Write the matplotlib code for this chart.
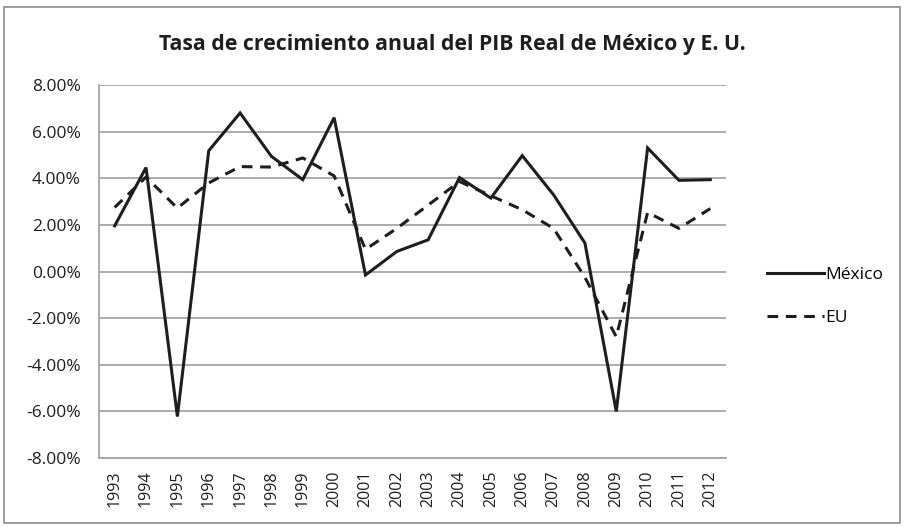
import matplotlib
matplotlib.use("Agg")
import matplotlib.pyplot as plt
from matplotlib.patches import Rectangle
from matplotlib.ticker import FuncFormatter

# datos (tasa de crecimiento anual, %)
years = [str(y) for y in range(1993, 2013)]
mexico = [1.96, 4.46, -6.22, 5.18, 6.80, 4.94, 3.94, 6.60, -0.15, 0.86,
          1.36, 4.03, 3.15, 4.97, 3.29, 1.22, -6.00, 5.30, 3.91, 3.94]
eu = [2.75, 4.05, 2.72, 3.80, 4.50, 4.48, 4.87, 4.10, 0.95, 1.85,
      2.85, 3.86, 3.25, 2.65, 1.85, -0.25, -2.80, 2.53, 1.85, 2.70]
yticks = [-8, -6, -4, -2, 0, 2, 4, 6, 8]

plt.rcParams['font.family'] = ['Open Sans', 'DejaVu Sans']

fig = plt.figure(figsize=(9.05, 5.27), dpi=100)
ax = fig.add_axes([0.1094, 0.1309, 0.6928, 0.7078])

x = list(range(len(years)))
ax.plot(x, mexico, color='#1e1e1e', lw=2.2, label='México', solid_joinstyle='miter')
ax.plot(x, eu, color='#1e1e1e', lw=2.2, ls=(0, (3.5, 2.5)), label='EU')

ax.set_xlim(-0.5, len(years) - 0.5)
ax.set_ylim(-8, 8)
ax.set_yticks(yticks)
ax.yaxis.set_major_formatter(FuncFormatter(lambda v, p: f"{v:.2f}%"))
ax.set_xticks(x)
ax.set_xticklabels(years, rotation=90)
ax.tick_params(axis='both', length=0, colors='#1e1e1e')
ax.tick_params(axis='y', pad=13, labelsize=12.5)
ax.tick_params(axis='x', pad=9, labelsize=11.5)

ax.grid(axis='y', color='#a6a6a6', lw=1.3)
ax.set_axisbelow(True)
for s in ['top', 'right']:
    ax.spines[s].set_visible(False)
for s in ['left', 'bottom']:
    ax.spines[s].set_color('#a6a6a6')
    ax.spines[s].set_linewidth(1.3)

fig.text(0.5, 0.915, 'Tasa de crecimiento anual del PIB Real de México y E. U.',
         ha='center', va='center', fontsize=15.3, fontweight='bold', color='#1e1e1e')

leg = ax.legend(loc='center left', bbox_to_anchor=(1.04, 0.433), frameon=False,
                fontsize=12.5, handlelength=3.3, handletextpad=0.1, labelspacing=1.5)

fig.add_artist(Rectangle((0.004, 0.008), 0.99, 0.978, transform=fig.transFigure,
                         fill=False, ec='#8c8c8c', lw=1.2))

fig.savefig('out.png', dpi=100)
